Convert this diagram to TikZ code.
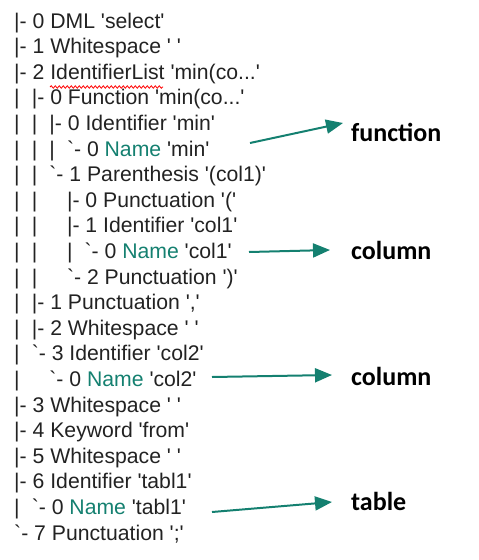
\documentclass[tikz,border=0pt]{standalone}
\usepackage{fontspec}
\setmainfont{Liberation Sans}[Ligatures=TeXOff]
\newfontfamily\labelfont{Carlito}
\usetikzlibrary{positioning,arrows.meta,decorations.pathmorphing}
\definecolor{nameteal}{RGB}{20,128,112}
\definecolor{treegray}{RGB}{34,34,34}
\newcommand{\vb}{\makebox[17.6pt][l]{|}}
\newcommand{\nb}{\hspace*{17.6pt}}
\newcommand{\nm}{\textcolor{nameteal}{Name}}

\begin{document}
\begin{tikzpicture}[x=1pt,y=1pt,node distance=25.6pt,>={Triangle[length=17pt,width=14pt]}]
    \tikzstyle{row}=[inner sep=0pt,anchor=base west,text=treegray,font=\fontsize{21.2}{25}\selectfont]
    \tikzstyle{tag}=[inner sep=0pt,anchor=base west,font=\labelfont\bfseries\fontsize{26}{31}\selectfont]
    \tikzstyle{pointer}=[->,draw=nameteal,fill=nameteal,line width=2pt]
    \useasboundingbox (0,0) rectangle (479,-560);
    % parse tree, one row per token
    \node[row] (l0) at (14,-28) {|- 0 DML 'select'};
    \node[row,below=of l0.base west,anchor=base west] (l1) {|- 1 Whitespace ' '};
    \node[row,below=of l1.base west,anchor=base west] (l2) {|- 2 IdentifierList 'min(co...'};
    \node[row,below=of l2.base west,anchor=base west] (l3) {\vb|- 0 Function 'min(co...'};
    \node[row,below=of l3.base west,anchor=base west] (l4) {\vb\vb|- 0 Identifier 'min'};
    \node[row,below=of l4.base west,anchor=base west] (l5) {\vb\vb\vb`- 0 \nm{} 'min'};
    \node[row,below=of l5.base west,anchor=base west] (l6) {\vb\vb`- 1 Parenthesis '(col1)'};
    \node[row,below=of l6.base west,anchor=base west] (l7) {\vb\vb\nb|- 0 Punctuation '('};
    \node[row,below=of l7.base west,anchor=base west] (l8) {\vb\vb\nb|- 1 Identifier 'col1'};
    \node[row,below=of l8.base west,anchor=base west] (l9) {\vb\vb\nb\vb`- 0 \nm{} 'col1'};
    \node[row,below=of l9.base west,anchor=base west] (l10) {\vb\vb\nb`- 2 Punctuation ')'};
    \node[row,below=of l10.base west,anchor=base west] (l11) {\vb|- 1 Punctuation ','};
    \node[row,below=of l11.base west,anchor=base west] (l12) {\vb|- 2 Whitespace ' '};
    \node[row,below=of l12.base west,anchor=base west] (l13) {\vb`- 3 Identifier 'col2'};
    \node[row,below=of l13.base west,anchor=base west] (l14) {\vb\nb`- 0 \nm{} 'col2'};
    \node[row,below=of l14.base west,anchor=base west] (l15) {|- 3 Whitespace ' '};
    \node[row,below=of l15.base west,anchor=base west] (l16) {|- 4 Keyword 'from'};
    \node[row,below=of l16.base west,anchor=base west] (l17) {|- 5 Whitespace ' '};
    \node[row,below=of l17.base west,anchor=base west] (l18) {|- 6 Identifier 'tabl1'};
    \node[row,below=of l18.base west,anchor=base west] (l19) {\vb`- 0 \nm{} 'tabl1'};
    \node[row,below=of l19.base west,anchor=base west] (l20) {`- 7 Punctuation ';'};
    % spell-check squiggle
    \draw[red,line width=0.8pt,decorate,decoration={snake,amplitude=1.2pt,segment length=4pt}] (50,-87) -- (163,-87);
    % labels
    \node[tag] (fn) at (351,-141) {function};
    \node[tag] (col1) at (351,-259) {column};
    \node[tag] (col2) at (351,-385) {column};
    \node[tag] (tbl) at (351,-510) {table};
    \coordinate (s1) at (250,-143);
    \coordinate (s2) at (249,-252);
    \coordinate (s3) at (212,-377);
    \coordinate (s4) at (212,-512);
    \draw[pointer] (s1) -- ([shift={(-8,18)}]fn.base west);
    \draw[pointer] (s2) -- ([shift={(-21,9)}]col1.base west);
    \draw[pointer] (s3) -- ([shift={(-19,10)}]col2.base west);
    \draw[pointer] (s4) -- ([shift={(-19,8)}]tbl.base west);
\end{tikzpicture}
\end{document}
